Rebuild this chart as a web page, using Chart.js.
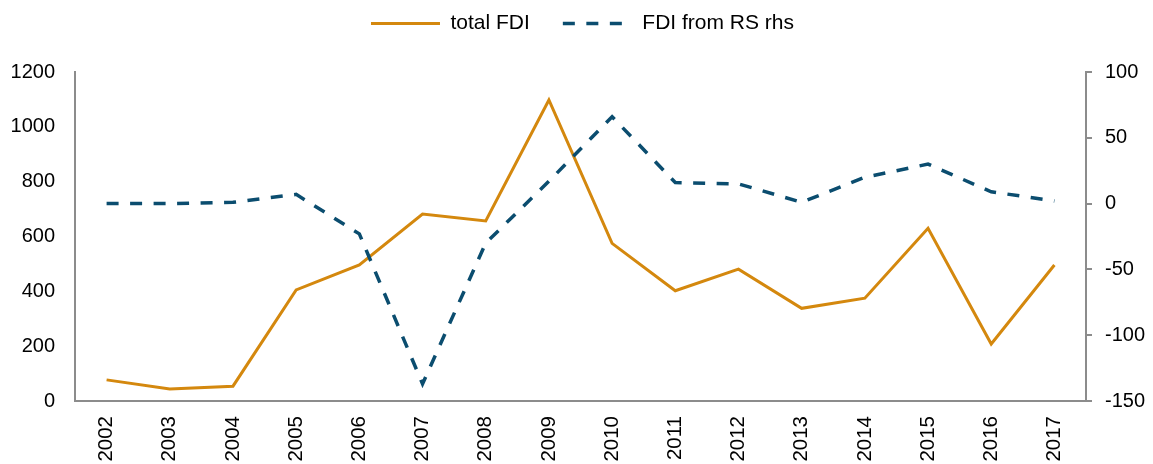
<!DOCTYPE html>
<html>
<head>
<meta charset="utf-8">
<title>FDI</title>
<script src="https://cdn.jsdelivr.net/npm/chart.js@4.4.1/dist/chart.umd.min.js"></script>
<style>
  html, body { margin: 0; padding: 0; background: #fff; }
  #wrap { width: 1153px; height: 464px; position: relative; }
</style>
</head>
<body>
<div id="wrap"><canvas id="c" width="1153" height="464"></canvas></div>
<script>
// Years on the category axis
const years = ['2002', '2003', '2004', '2005', '2006', '2007', '2008', '2009',
               '2010', '2011', '2012', '2013', '2014', '2015', '2016', '2017'];

// Total FDI (left axis)
const totalFdi = [77, 44, 54, 405, 496, 682, 657, 1098, 575, 402, 481, 338, 375, 630, 208, 496];

// FDI from RS (right axis)
const fdiFromRs = [0, 0, 1, 7, -23, -137, -30, 17, 66, 16, 15, 1, 20, 30, 9, 2];

// Axis ranges
const leftAxis = { min: 0, max: 1200, step: 200 };
const rightAxis = { min: -150, max: 100, step: 50 };

const seriesLabels = ['total FDI', 'FDI from RS rhs'];

const ORANGE = '#D4880E';
const BLUE = '#0B4D6F';
const AXIS = '#8C8C8C';
const FONT = "'Liberation Sans', Arial, sans-serif";

// Reserve a fixed band above the plot for the legend and lift the legend row in it
const legendBand = {
  id: 'legendBand',
  beforeLayout(chart) {
    const lg = chart.legend;
    if (lg && !lg._bandWrapped) {
      const fit = lg.fit.bind(lg);
      lg.fit = function () { fit(); this.height = 72; };
      const draw = lg.draw.bind(lg);
      lg.draw = function () {
        const ctx = this.ctx;
        ctx.save();
        ctx.translate(6, -20);
        draw();
        ctx.restore();
      };
      lg._bandWrapped = true;
    }
  }
};

const plain = (v) => String(v);

new Chart(document.getElementById('c'), {
  type: 'line',
  data: {
    labels: years,
    datasets: [
      {
        label: seriesLabels[0],
        data: totalFdi,
        yAxisID: 'y',
        borderColor: ORANGE,
        backgroundColor: ORANGE,
        borderWidth: 3,
        pointRadius: 0,
        tension: 0,
        fill: false,
        order: 1
      },
      {
        label: seriesLabels[1],
        data: fdiFromRs,
        yAxisID: 'y1',
        borderColor: BLUE,
        backgroundColor: BLUE,
        borderWidth: 3.5,
        borderDash: [12, 11.5],
        pointRadius: 0,
        tension: 0,
        fill: false,
        order: 0
      }
    ]
  },
  plugins: [legendBand],
  options: {
    responsive: false,
    animation: false,
    layout: { padding: { top: 0, left: 0, right: 0, bottom: 0 } },
    plugins: {
      tooltip: { enabled: false },
      legend: {
        display: true,
        position: 'top',
        labels: {
          usePointStyle: true,
          pointStyleWidth: 69,
          boxHeight: 20,
          padding: 33,
          color: '#000',
          font: { family: FONT, size: 21 },
          sort: (a, b) => a.datasetIndex - b.datasetIndex,
          generateLabels(chart) {
            return chart.data.datasets.map((ds, i) => ({
              text: ds.label,
              datasetIndex: i,
              strokeStyle: ds.borderColor,
              fillStyle: ds.borderColor,
              lineWidth: ds.borderWidth,
              lineDash: ds.borderDash || [],
              lineCap: 'butt',
              pointStyle: 'line',
              hidden: false,
              fontColor: '#000'
            }));
          }
        }
      }
    },
    scales: {
      x: {
        offset: true,
        grid: { display: false, drawTicks: false, tickLength: 0 },
        border: { display: true, color: AXIS, width: 2 },
        ticks: {
          autoSkip: false,
          minRotation: 90,
          maxRotation: 90,
          padding: 15,
          color: '#000',
          font: { family: FONT, size: 20.5 }
        },
        afterFit(scale) { scale.height = 63; }
      },
      y: {
        position: 'left',
        min: leftAxis.min,
        max: leftAxis.max,
        grid: { display: false, drawTicks: false, tickLength: 0 },
        border: { display: true, color: AXIS, width: 2 },
        ticks: {
          stepSize: leftAxis.step,
          padding: 20,
          color: '#000',
          font: { family: FONT, size: 20 },
          callback: plain
        },
        afterFit(scale) { scale.width = 75; }
      },
      y1: {
        position: 'right',
        min: rightAxis.min,
        max: rightAxis.max,
        grid: {
          display: true,
          drawOnChartArea: false,
          drawTicks: true,
          tickLength: 6,
          color: AXIS,
          lineWidth: 2
        },
        border: { display: true, color: AXIS, width: 2 },
        ticks: {
          stepSize: rightAxis.step,
          padding: 13,
          color: '#000',
          font: { family: FONT, size: 20 },
          callback: plain
        },
        afterFit(scale) { scale.width = 67; }
      }
    }
  }
});
</script>
</body>
</html>
